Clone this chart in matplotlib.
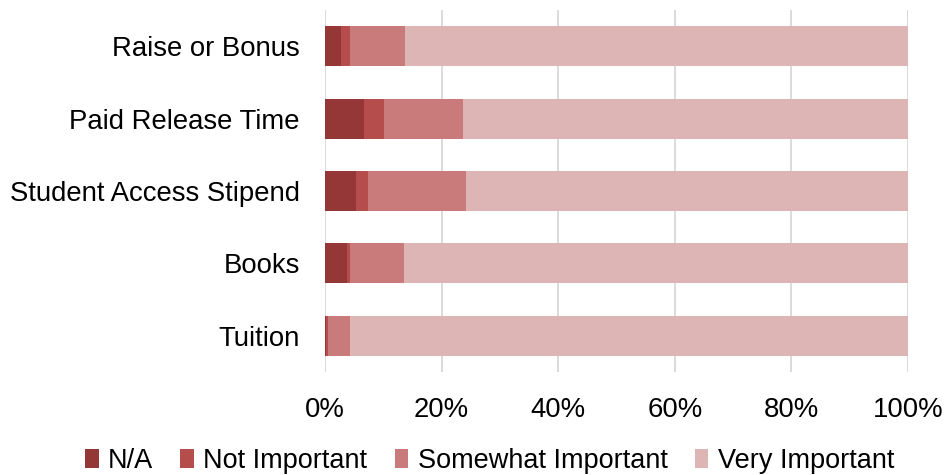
import matplotlib
matplotlib.use('Agg')
import matplotlib.pyplot as plt
import numpy as np

plt.rcParams['font.family'] = ['Liberation Sans', 'DejaVu Sans']

# categories, top to bottom
categories = ['Raise or Bonus', 'Paid Release Time', 'Student Access Stipend',
              'Books', 'Tuition']

# percent of responses per category
na_vals = [2.7, 6.7, 5.4, 3.8, 0.2]
not_important = [1.6, 3.4, 2.0, 0.5, 0.3]
somewhat_important = [9.5, 13.5, 16.7, 9.3, 3.8]
very_important = [86.2, 76.4, 75.9, 86.4, 95.7]

series_names = ['N/A', 'Not Important', 'Somewhat Important', 'Very Important']
series_colors = ['#953737', '#B44D4B', '#C87B7A', '#DEB5B5']

fig = plt.figure(figsize=(9.45, 4.75), dpi=100)
ax = fig.add_axes([325/945, 1 - 372/475, 583/945, 362/475])

y = np.arange(len(categories))
left = np.zeros(len(categories))
for name, vals, col in zip(series_names,
                           [na_vals, not_important, somewhat_important, very_important],
                           series_colors):
    vals = np.array(vals)
    ax.barh(y, vals, left=left, height=0.55, color=col, label=name,
            linewidth=0, zorder=3)
    left += vals

ax.set_xlim(0, 100)
ax.set_ylim(len(categories) - 0.5, -0.5)
ax.set_yticks(y)
ax.set_yticklabels(categories, fontsize=19.8)
ax.set_xticks(np.arange(0, 101, 20))
ax.set_xticklabels([f'{v}%' for v in range(0, 101, 20)], fontsize=19.8)
ax.tick_params(axis='y', length=0, pad=18)
ax.tick_params(axis='x', length=0, pad=18)

for s in ax.spines.values():
    s.set_visible(False)
ax.grid(axis='x', color='#d4d4d4', linewidth=1.2, zorder=0)
ax.set_axisbelow(True)

fig.legend(loc='lower center', bbox_to_anchor=(0.518, -0.05), ncol=4,
           frameon=False, fontsize=19.5, handlelength=0.5, handleheight=0.7,
           handletextpad=0.35, columnspacing=1.0)

fig.savefig('out.png', dpi=100)
